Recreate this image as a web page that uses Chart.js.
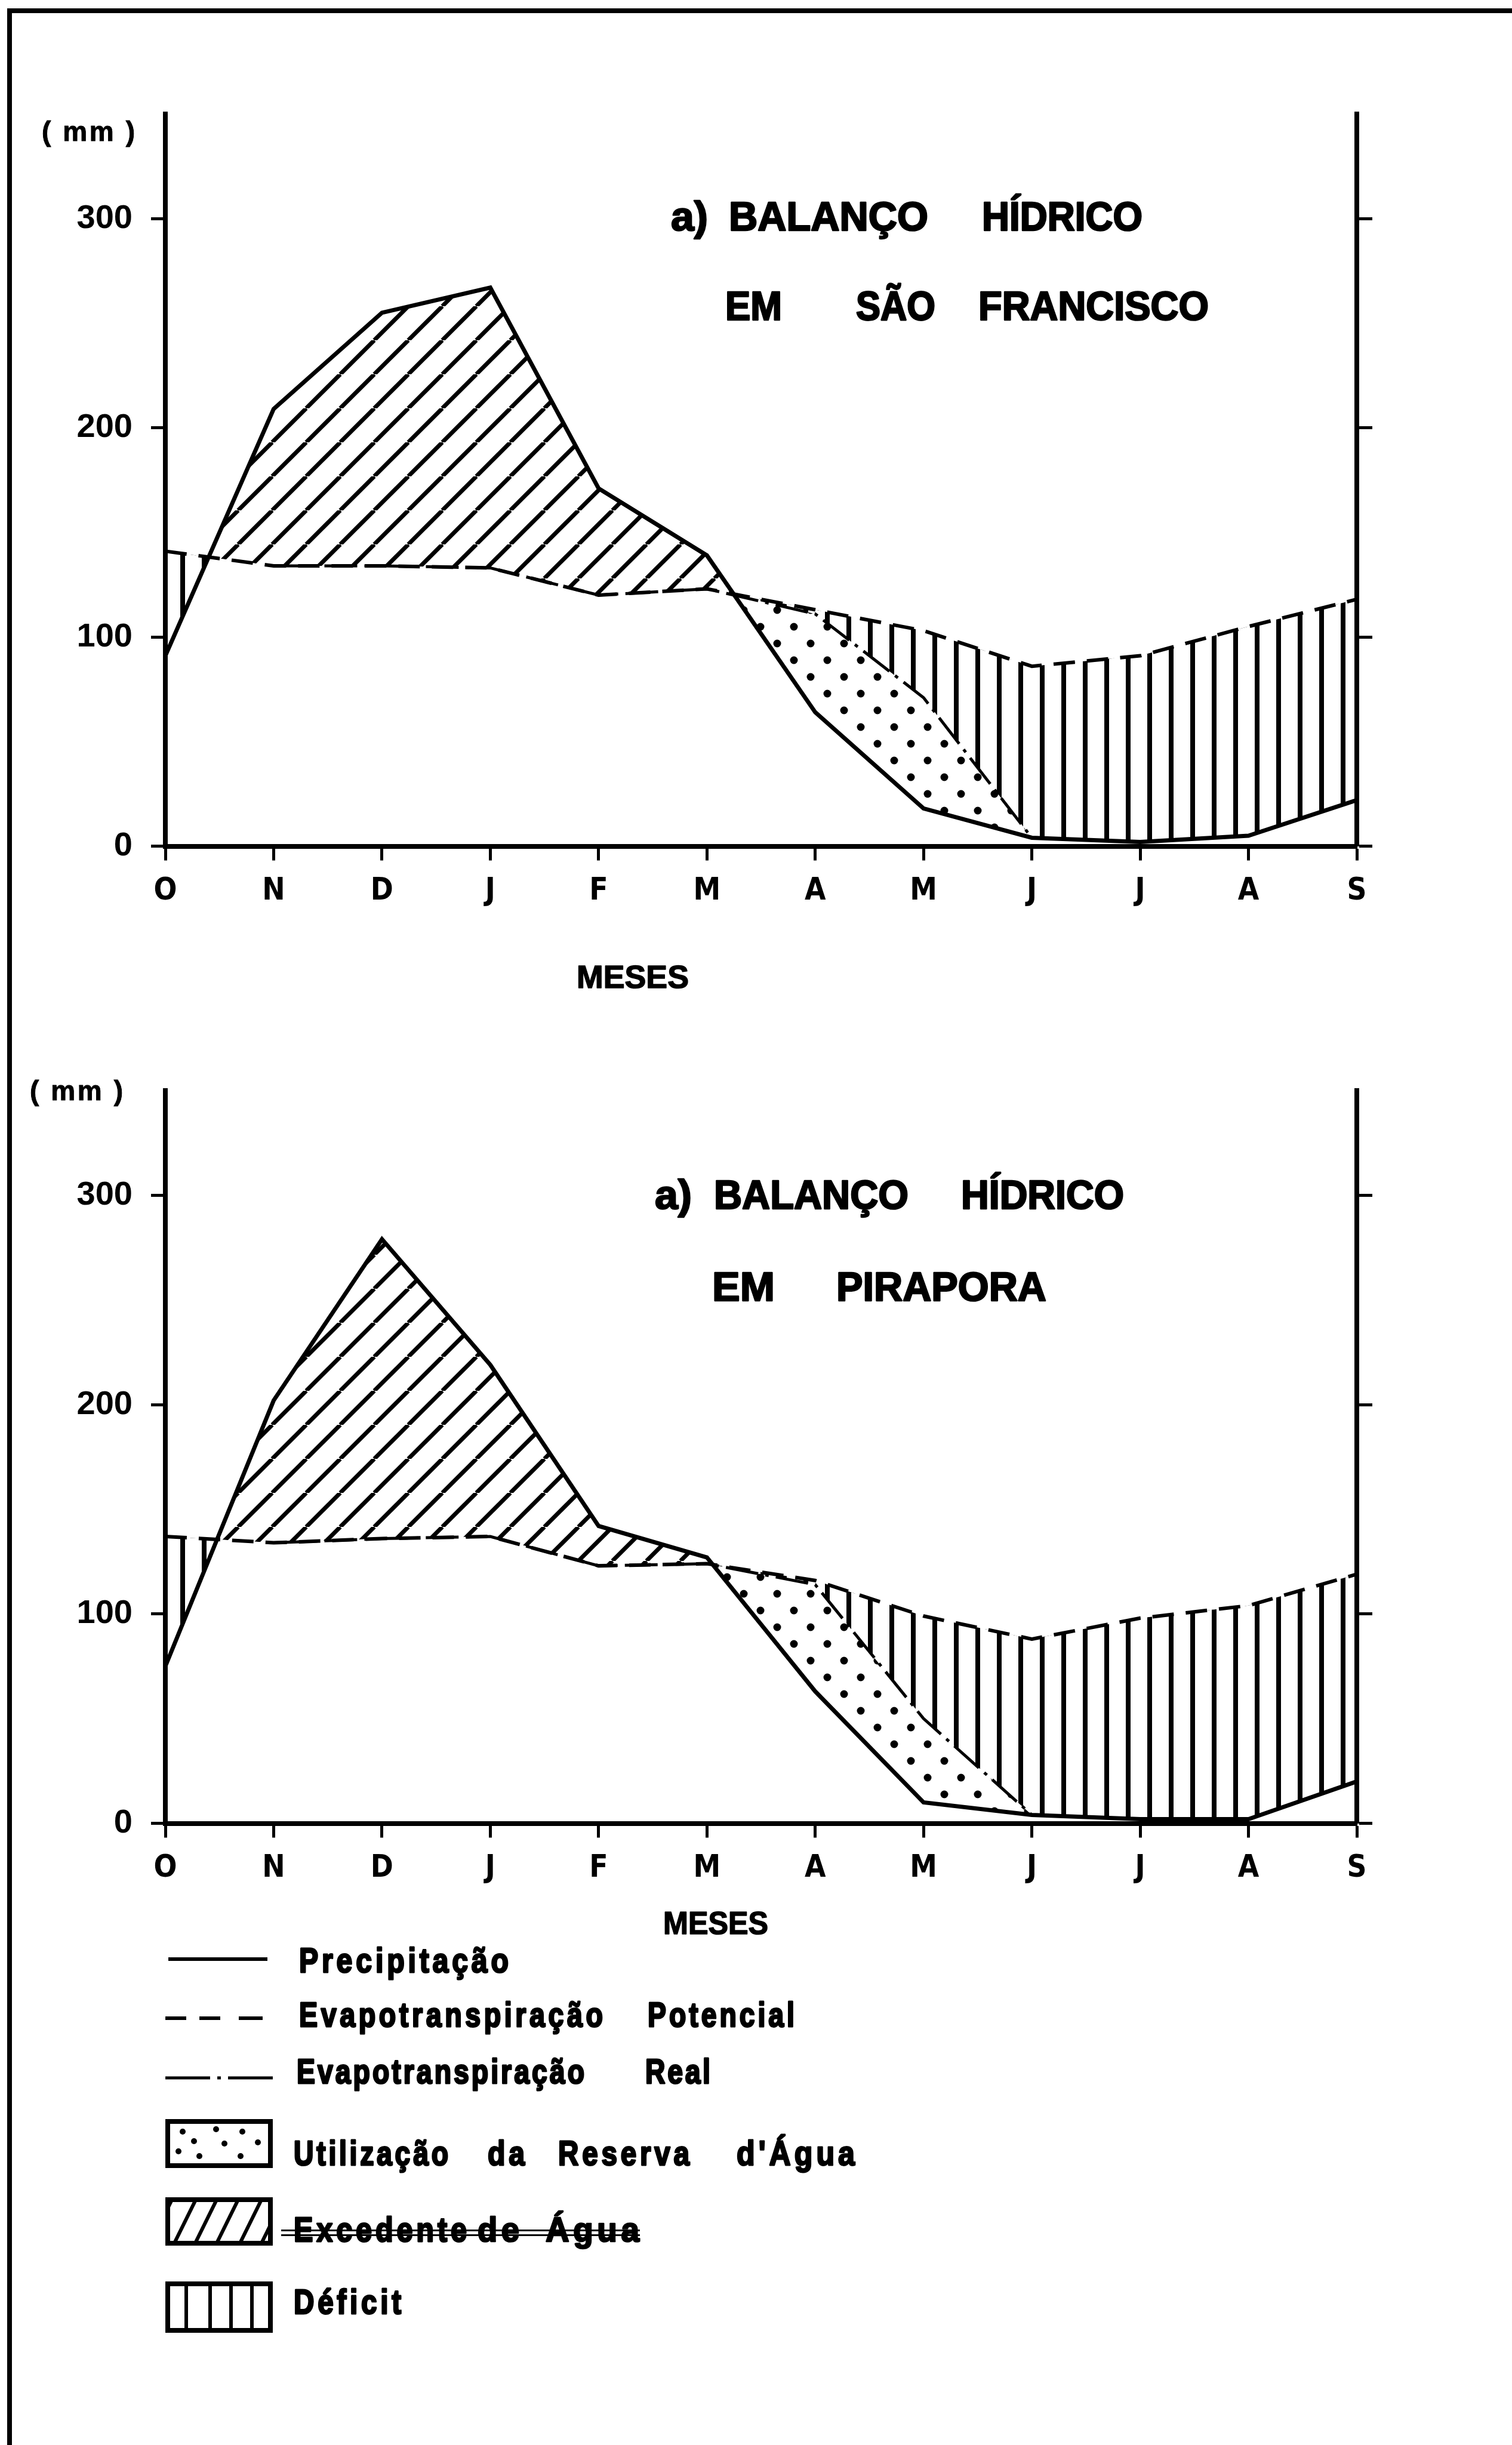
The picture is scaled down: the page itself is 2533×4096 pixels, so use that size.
<!DOCTYPE html>
<html>
<head>
<meta charset="utf-8">
<title>Balanço hídrico</title>
<script src="https://cdn.jsdelivr.net/npm/chart.js@4.4.1/dist/chart.umd.min.js"></script>
<style>
  html, body { margin: 0; padding: 0; background: #fff; overflow: hidden; }
  #page { position: relative; width: 2533px; height: 4096px; overflow: hidden; background: #fff; }
  canvas { position: absolute; left: 0; }
  #chartSF { top: 0; }
  #chartPi { top: 1760px; }
  #frameTop { position: absolute; left: 12px; top: 14px; right: 0; height: 8px; background: #000; }
  #frameLeft { position: absolute; left: 12px; top: 14px; width: 8px; bottom: 0; background: #000; }
</style>
</head>
<body>
<div id="page">
  <canvas id="chartSF" width="2533" height="1760"></canvas>
  <canvas id="chartPi" width="2533" height="2336"></canvas>
  <div id="frameTop"></div>
  <div id="frameLeft"></div>
</div>
<script>
// months of the hydrological year, October to September
const months = ['O', 'N', 'D', 'J', 'F', 'M', 'A', 'M', 'J', 'J', 'A', 'S'];
const yTicks = [0, 100, 200, 300];
const yMax = 350;

// São Francisco (mm); real ET only drawn once it leaves the rain curve
const precSF = [91, 209, 255, 267, 171, 139, 64, 18, 4, 2, 5, 22];
const etpSF  = [141, 134, 134, 133, 120, 123, 113, 103, 86, 91, 105, 118];
const etrSF  = [null, 134, 134, 133, 120, 123, 111, 71, 4, 2, 5, 22];

// Pirapora (mm)
const precPi = [75, 202, 279, 219, 142, 127, 63, 10, 4, 2, 2, 20];
const etpPi  = [137, 134, 136, 137, 123, 124, 116, 99, 88, 98, 104, 119];
const etrPi  = [null, 134, 136, 137, 123, 124, 114, 50, 4, 2, 2, 20];

const SANS = '"Liberation Sans", Arial, sans-serif';
const NARROW = '"Liberation Sans Narrow", "DejaVu Sans Condensed", "Liberation Sans", sans-serif';
const W = 2533;
const PLOT_LEFT = 277, PLOT_RIGHT = 2273;

function makePatterns(ctx) {
  const tile = (w, h, draw) => {
    const c = document.createElement('canvas');
    c.width = w; c.height = h;
    const t = c.getContext('2d');
    t.fillStyle = '#000'; t.strokeStyle = '#000';
    draw(t, w, h);
    return ctx.createPattern(c, 'repeat');
  };
  // "/" hatching for water surplus
  const diag = tile(57, 57, (t, s) => {
    t.lineWidth = 7;
    for (const k of [-1, 0, 1]) {
      t.beginPath(); t.moveTo(k * s, s); t.lineTo(k * s + s, 0); t.stroke();
    }
  });
  // vertical bars for deficit
  const vert = tile(36, 8, t => t.fillRect(14, 0, 8, 8));
  // staggered dots for soil water use, on white so the deficit bars stop at real ET
  const dots = tile(56, 56, t => {
    t.fillStyle = '#fff'; t.fillRect(0, 0, 56, 56);
    t.fillStyle = '#000';
    for (const [x, y] of [[14, 14], [42, 42]]) {
      t.beginPath(); t.arc(x, y, 6.5, 0, Math.PI * 2); t.fill();
    }
  });
  return { diag, vert, dots };
}

// one word squeezed or spread between x0 and x1
function putWord(ctx, text, x0, x1, base, size, family, mode, heavy) {
  ctx.save();
  ctx.font = `bold ${size}px ${family}`;
  ctx.fillStyle = '#000';
  ctx.strokeStyle = '#000';
  ctx.textAlign = 'left';
  ctx.textBaseline = 'alphabetic';
  const canSpace = 'letterSpacing' in ctx;
  if (canSpace) ctx.letterSpacing = '0px';
  const w = ctx.measureText(text).width;
  const target = x1 - x0;
  const n = Array.from(text).length;
  let sx = target / w;
  if (mode === 'narrow' && canSpace && n > 1) {
    sx = 0.8;
    let ls = (target / sx - w) / (n - 1);
    if (ls < 0) { ls = 0; sx = target / w; }
    if (ls > 0.12 * size) { ls = 0.12 * size; sx = target / (w + (n - 1) * ls); }
    ctx.letterSpacing = ls + 'px';
  } else if (mode === 'space' && canSpace && w < target && n > 1) {
    ctx.letterSpacing = ((target - w) / (n - 1)) + 'px';
    sx = 1;
  }
  ctx.translate(x0, base);
  ctx.scale(sx, 1);
  ctx.fillText(text, 0, 0);
  if (heavy) { ctx.lineWidth = heavy / sx; ctx.lineJoin = 'round'; ctx.strokeText(text, 0, 0); }
  ctx.restore();
}

function axisGrid(len) {
  return { display: true, drawOnChartArea: false, drawTicks: true, tickLength: len,
           tickWidth: 5, tickColor: '#000', offset: false };
}
const axisBorder = { display: true, color: '#000', width: 8 };
const keepTicks = s => { s.ticks = yTicks.map(v => ({ value: v })); };

function waterChart(id, prec, etp, etr, plotTop, plotBottom, extras) {
  const canvas = document.getElementById(id);
  const ctx = canvas.getContext('2d');
  const pat = makePatterns(ctx);
  const clear = 'rgba(0,0,0,0)';
  // fills are painted last dataset first: deficit bars, then reserve dots, then surplus hatch
  return new Chart(ctx, {
    type: 'line',
    data: {
      labels: months,
      datasets: [
        { label: 'Precipitação', data: prec, borderColor: '#000', borderWidth: 7,
          fill: { target: 2, above: pat.diag, below: clear } },
        { label: 'Evapotranspiração Real', data: etr, borderColor: '#000', borderWidth: 5,
          borderDash: [55, 12, 6, 12], fill: { target: 0, above: pat.dots, below: clear } },
        { label: 'Evapotranspiração Potencial', data: etp, borderColor: '#000', borderWidth: 6,
          borderDash: [36, 20], fill: { target: 0, above: pat.vert, below: clear } }
      ]
    },
    options: {
      responsive: false,
      animation: false,
      devicePixelRatio: 1,
      layout: { padding: { top: plotTop, left: 0, right: 0, bottom: 0 } },
      elements: { point: { radius: 0 }, line: { tension: 0 } },
      plugins: {
        legend: { display: false },
        tooltip: { enabled: false },
        filler: { drawTime: 'beforeDatasetsDraw', propagate: false }
      },
      scales: {
        x: {
          type: 'category', offset: false,
          grid: axisGrid(24), border: axisBorder,
          ticks: { color: '#000', font: { family: NARROW, size: 51, weight: 'bold' },
                   padding: 22, maxRotation: 0, autoSkip: false },
          afterFit: s => { s.height = canvas.height - plotBottom; }
        },
        y: {
          min: 0, max: yMax, position: 'left',
          afterBuildTicks: keepTicks,
          grid: axisGrid(24), border: axisBorder,
          ticks: { color: '#000', font: { family: SANS, size: 56, weight: 'bold' }, padding: 31 },
          afterFit: s => { s.width = PLOT_LEFT; }
        },
        y2: {
          min: 0, max: yMax, position: 'right',
          afterBuildTicks: keepTicks,
          grid: axisGrid(26), border: axisBorder,
          ticks: { display: false },
          afterFit: s => { s.width = W - PLOT_RIGHT; }
        }
      }
    },
    plugins: [{ id: 'sheetText', afterDraw: c => extras(c.ctx) }]
  });
}

function drawLegend(ctx, dy) {
  ctx.save();
  ctx.strokeStyle = '#000';
  ctx.fillStyle = '#000';
  ctx.lineCap = 'butt';

  // line samples
  ctx.lineWidth = 6;
  ctx.beginPath(); ctx.moveTo(282, 3282 + dy); ctx.lineTo(448, 3282 + dy); ctx.stroke();
  for (const [a, b] of [[277, 312], [334, 369], [400, 440]]) {
    ctx.beginPath(); ctx.moveTo(a, 3381 + dy); ctx.lineTo(b, 3381 + dy); ctx.stroke();
  }
  ctx.lineWidth = 5;
  ctx.setLineDash([75, 12, 6, 12]);
  ctx.beginPath(); ctx.moveTo(277, 3481 + dy); ctx.lineTo(457, 3481 + dy); ctx.stroke();
  ctx.setLineDash([]);

  // swatch boxes
  const boxes = [[3550, 3632], [3681, 3762], [3822, 3908]];
  ctx.lineWidth = 8;
  for (const [t, b] of boxes) ctx.strokeRect(281, t + 4 + dy, 172, b - t - 8);

  // dots
  for (const [x, y] of [[306, 3571], [362, 3567], [406, 3571], [432, 3589], [376, 3591],
                        [325, 3587], [299, 3604], [334, 3612], [403, 3612]]) {
    ctx.beginPath(); ctx.arc(x, y + dy, 5, 0, Math.PI * 2); ctx.fill();
  }
  // diagonals
  ctx.save();
  ctx.beginPath(); ctx.rect(285, 3685 + dy, 164, 73); ctx.clip();
  ctx.lineWidth = 6;
  for (const x of [250, 290, 325, 361, 400, 436, 472]) {
    ctx.beginPath(); ctx.moveTo(x, 3762 + dy); ctx.lineTo(x + 40, 3681 + dy); ctx.stroke();
  }
  ctx.restore();
  // verticals
  for (const x of [312, 352, 387, 422]) ctx.fillRect(x - 3, 3822 + dy, 6, 86);
  ctx.restore();

  const F = 58, H = 2.5;
  putWord(ctx, 'Precipitação', 501, 852, 3304 + dy, F, SANS, 'narrow', H);
  putWord(ctx, 'Evapotranspiração', 501, 1010, 3395 + dy, F, SANS, 'narrow', H);
  putWord(ctx, 'Potencial', 1085, 1331, 3395 + dy, F, SANS, 'narrow', H);
  putWord(ctx, 'Evapotranspiração', 497, 979, 3490 + dy, F, SANS, 'narrow', H);
  putWord(ctx, 'Real', 1081, 1190, 3490 + dy, F, SANS, 'narrow', H);
  putWord(ctx, 'Utilização', 492, 751, 3627 + dy, F, SANS, 'narrow', H);
  putWord(ctx, 'da', 817, 879, 3627 + dy, F, SANS, 'narrow', H);
  putWord(ctx, 'Reserva', 935, 1155, 3627 + dy, F, SANS, 'narrow', H);
  putWord(ctx, "d'Água", 1234, 1432, 3627 + dy, F, SANS, 'narrow', H);
  putWord(ctx, 'Excedente', 492, 782, 3755 + dy, F, SANS, 'narrow', H);
  putWord(ctx, 'de', 800, 870, 3755 + dy, F, SANS, 'narrow', H);
  putWord(ctx, 'Água', 914, 1071, 3755 + dy, F, SANS, 'narrow', H);
  putWord(ctx, 'Déficit', 492, 672, 3876 + dy, F, SANS, 'narrow', H);

  // ruled guide marks running through the surplus caption
  ctx.save();
  ctx.fillStyle = '#000';
  ctx.fillRect(471, 3735 + dy, 601, 3);
  ctx.fillRect(471, 3743 + dy, 601, 3);
  ctx.restore();
}

waterChart('chartSF', precSF, etpSF, etrSF, 191, 1417.5, ctx => {
  putWord(ctx, '( mm )', 70, 226, 236, 46, SANS, 'space', 1);
  putWord(ctx, 'a)', 1124, 1186, 386, 68, SANS, 'scale', 2.5);
  putWord(ctx, 'BALANÇO', 1221, 1555, 386, 68, SANS, 'scale', 2.5);
  putWord(ctx, 'HÍDRICO', 1645, 1914, 386, 68, SANS, 'scale', 2.5);
  putWord(ctx, 'EM', 1215, 1310, 536, 68, SANS, 'scale', 2.5);
  putWord(ctx, 'SÃO', 1434, 1567, 536, 68, SANS, 'scale', 2.5);
  putWord(ctx, 'FRANCISCO', 1639, 2025, 536, 68, SANS, 'scale', 2.5);
  putWord(ctx, 'MESES', 966, 1154, 1655, 54, SANS, 'scale', 1.5);
});

const dyPi = -1760;
waterChart('chartPi', precPi, etpPi, etrPi, 67, 1294.5, ctx => {
  putWord(ctx, '( mm )', 50, 206, 1843 + dyPi, 46, SANS, 'space', 1);
  putWord(ctx, 'a)', 1097, 1159, 2025 + dyPi, 68, SANS, 'scale', 2.5);
  putWord(ctx, 'BALANÇO', 1196, 1522, 2025 + dyPi, 68, SANS, 'scale', 2.5);
  putWord(ctx, 'HÍDRICO', 1610, 1883, 2025 + dyPi, 68, SANS, 'scale', 2.5);
  putWord(ctx, 'EM', 1193, 1298, 2179 + dyPi, 68, SANS, 'scale', 2.5);
  putWord(ctx, 'PIRAPORA', 1401, 1753, 2179 + dyPi, 68, SANS, 'scale', 2.5);
  putWord(ctx, 'MESES', 1111, 1287, 3240 + dyPi, 54, SANS, 'scale', 1.5);
  drawLegend(ctx, dyPi);
});
</script>
</body>
</html>
